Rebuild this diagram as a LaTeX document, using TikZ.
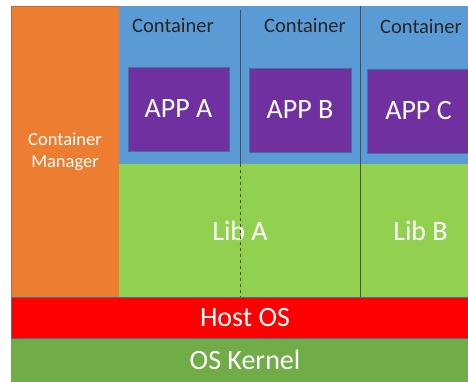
\documentclass[tikz,border=0pt]{standalone}
\usepackage{fontspec}
\setmainfont{Carlito}
\usetikzlibrary{positioning}
\definecolor{mgrorange}{HTML}{ED7D31}
\definecolor{ctblue}{HTML}{5B9BD5}
\definecolor{apppurple}{HTML}{7030A0}
\definecolor{libgreen}{HTML}{92D050}
\definecolor{kerngreen}{HTML}{70AD47}
\definecolor{edgeblue}{HTML}{41719C}

\begin{document}
\begin{tikzpicture}[x=1pt, y=-1pt,
  box/.style={rectangle, inner sep=0pt, line width=0.6pt},
  bigtxt/.style={text=white, font=\fontsize{28}{30}\selectfont},
  captxt/.style={inner sep=0pt, text=black!85, font=\fontsize{20.5}{22}\selectfont},
  sep/.style={black!70, line width=0.6pt}]
\useasboundingbox (0,0) rectangle (468,381);
\clip (0,0) rectangle (468,381);

\node [box, fill=mgrorange, draw=mgrorange!85!black, minimum width=108pt, minimum height=291pt, align=center, text=white, font=\fontsize{18.5}{22}\selectfont] (manager) at (65,151.5) {Container\\Manager};

% containers
\node [box, fill=ctblue, minimum width=121pt, minimum height=158pt] (cont1) at (179.5,85) {};
\node [box, fill=ctblue, minimum width=121pt, minimum height=158pt] (cont2) at (300.5,85) {};
\node [box, fill=ctblue, minimum width=119pt, minimum height=158pt] (cont3) at (420.5,85) {};
\node [captxt] (cap1) at (173,26) {Container};
\node [captxt] (cap2) at (305,26) {Container};
\node [captxt] (cap3) at (421,27) {Container};

% apps
\node [box, bigtxt, fill=apppurple, draw=edgeblue, minimum width=101pt, minimum height=84pt] (appA) at (178.5,109) {APP A};
\node [box, bigtxt, fill=apppurple, draw=edgeblue, minimum width=102pt, minimum height=84pt] (appB) at (300,110) {APP B};
\node [box, bigtxt, fill=apppurple, draw=edgeblue, minimum width=102pt, minimum height=84pt] (appC) at (418.5,111) {APP C};

% libs
\node [box, bigtxt, fill=libgreen, minimum width=242pt, minimum height=133pt] (libA) at (240,230.5) {Lib A};
\node [box, bigtxt, fill=libgreen, minimum width=119pt, minimum height=133pt] (libB) at (420.5,230.5) {Lib B};

\draw [sep] ([yshift=-4pt]cont1.north east) -- (cont1.south east);
\draw [sep, dashed] (libA.north) -- (libA.south);
\draw [sep] (cont3.north west) -- (libB.south west);

% host and kernel
\node [box, bigtxt, fill=kerngreen, minimum width=468pt, minimum height=44pt] (kernel) at (245,360) {OS Kernel};
\node [box, bigtxt, fill=red, draw=edgeblue, minimum width=468pt, minimum height=41pt] (host) at (245,317.5) {Host OS};
\end{tikzpicture}
\end{document}
